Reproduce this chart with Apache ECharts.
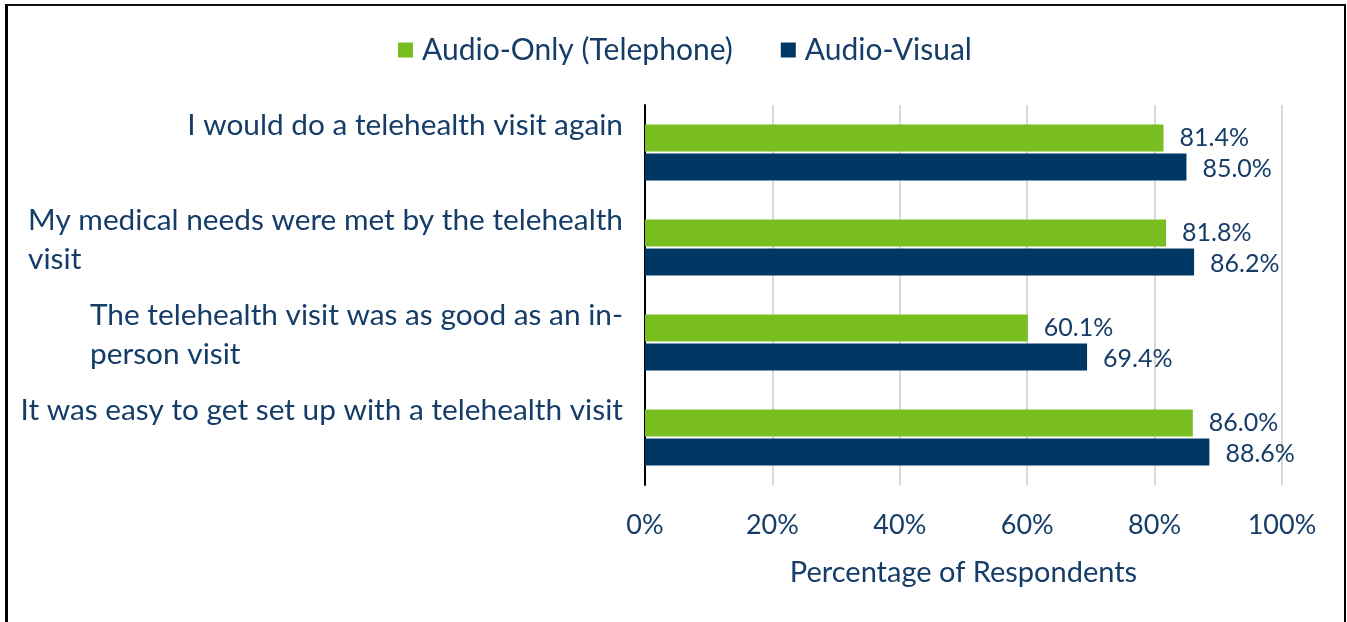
<!DOCTYPE html>
<html>
<head>
<meta charset="utf-8">
<title>Telehealth visit satisfaction</title>
<script src="https://cdn.jsdelivr.net/npm/echarts@6/dist/echarts.min.js"></script>
<style>
  html, body { margin: 0; padding: 0; background: #fff; overflow: hidden; }
  #chart { position: absolute; left: 0; top: 0; width: 1347px; height: 622px; }
  #frame {
    position: absolute; left: 5px; top: 4px; width: 1341px; height: 700px;
    box-sizing: border-box; pointer-events: none;
    border-top: 2px solid #111; border-left: 3px solid #000; border-right: 2px solid #000;
  }
</style>
</head>
<body>
<div id="chart"></div>
<div id="frame"></div>
<script>
// Survey statements (line breaks are where the labels wrap)
const categories = [
  'I would do a telehealth visit again',
  'My medical needs were met by the telehealth\nvisit',
  'The telehealth visit was as good as an in-\nperson visit',
  'It was easy to get set up with a telehealth visit'
];
const seriesNames = ['Audio-Only (Telephone)', 'Audio-Visual'];
// Share of respondents agreeing, in percent
const audioOnly = [81.4, 81.8, 60.1, 86.0];
const audioVisual = [85.0, 86.2, 69.4, 88.6];
// Value axis ticks, in percent
const xTicks = [0, 20, 40, 60, 80, 100];
const axisTitle = 'Percentage of Respondents';

const TEXT = '#153D68';
const GREEN = '#78BE21';
const NAVY = '#003865';
const FONT = 'Lato';

const chart = echarts.init(document.getElementById('chart'), null, { renderer: 'canvas' });

// Every statement is laid out as a two-line block, lines flush left inside the block
function categoryLabel(value) {
  const lines = value.split('\n');
  while (lines.length < 2) lines.push(' ');
  return lines.map(l => '{a|' + l + '}').join('\n');
}

chart.setOption({
  animation: false,
  textStyle: { fontFamily: FONT, color: TEXT },
  legend: {
    data: seriesNames,
    top: 30,
    left: 393,
    icon: 'rect',
    itemWidth: 15,
    itemHeight: 15,
    itemGap: 48,
    textStyle: { fontFamily: FONT, fontSize: 30, color: TEXT, padding: [0, 0, 0, 4] }
  },
  grid: { left: 645, right: 65, top: 105, bottom: 137, containLabel: false },
  xAxis: {
    type: 'value',
    min: xTicks[0],
    max: xTicks[xTicks.length - 1],
    interval: xTicks[1] - xTicks[0],
    axisLine: { show: false },
    axisTick: { show: false },
    axisLabel: {
      formatter: '{value}%',
      fontFamily: FONT, fontSize: 27, color: TEXT, margin: 27
    },
    splitLine: { show: true, lineStyle: { color: '#D9D9D9', width: 2 } },
    name: axisTitle,
    nameLocation: 'middle',
    nameGap: 73,
    nameTextStyle: { fontFamily: FONT, fontSize: 29, color: TEXT }
  },
  yAxis: {
    type: 'category',
    data: categories,
    inverse: true,
    axisTick: { show: false },
    axisLine: { show: true, lineStyle: { color: '#000', width: 2 } },
    axisLabel: {
      margin: 22,
      padding: [0, 0, 15, 0],
      formatter: categoryLabel,
      rich: {
        a: { fontFamily: FONT, fontSize: 29.8, lineHeight: 39, color: TEXT, align: 'left' }
      }
    }
  },
  series: [
    {
      name: seriesNames[0],
      type: 'bar',
      data: audioOnly,
      barWidth: 27,
      barGap: '7%',
      itemStyle: { color: GREEN },
      label: {
        show: true, position: 'right', distance: 16,
        fontFamily: FONT, fontSize: 25, color: TEXT,
        formatter: p => p.value.toFixed(1) + '%'
      }
    },
    {
      name: seriesNames[1],
      type: 'bar',
      data: audioVisual,
      barWidth: 27,
      barGap: '7%',
      itemStyle: { color: NAVY },
      label: {
        show: true, position: 'right', distance: 16, offset: [0, 2],
        fontFamily: FONT, fontSize: 25, color: TEXT,
        formatter: p => p.value.toFixed(1) + '%'
      }
    }
  ]
});
</script>
</body>
</html>
